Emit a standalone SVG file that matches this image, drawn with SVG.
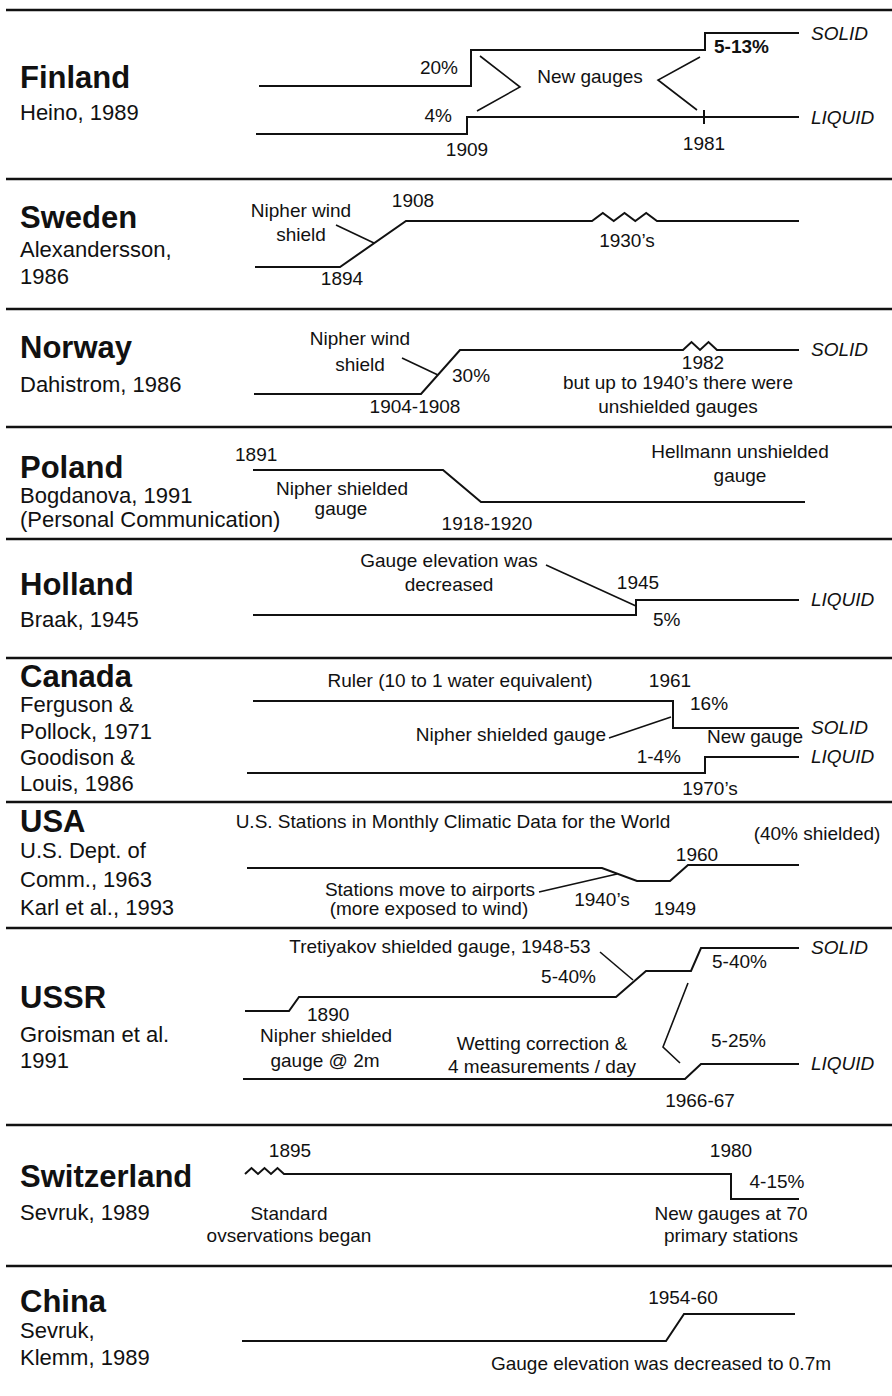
<svg xmlns="http://www.w3.org/2000/svg" width="892" height="1396" viewBox="0 0 892 1396">
  <style>
    .sep { stroke: #111; stroke-width: 2.5; }
    .trace { fill: none; stroke: #111; stroke-width: 2; stroke-linejoin: miter; }
    .ptr { fill: none; stroke: #111; stroke-width: 1.6; }
    text { font-family: "Liberation Sans", Arial, Helvetica, sans-serif; fill: #111; }
    .title { font-size: 31px; font-weight: bold; }
    .sub { font-size: 22px; }
    .lab { font-size: 19px; }
    .it { font-size: 19px; font-style: italic; }
    .b { font-weight: bold; }
    .mid { text-anchor: middle; }
    .end { text-anchor: end; }
  </style>
  <rect width="892" height="1396" fill="#fff"/>

  <!-- horizontal rules between the country panels -->
  <g id="separators">
    <line class="sep" x1="6" y1="10" x2="892" y2="10"/>
    <line class="sep" x1="6" y1="179" x2="892" y2="179"/>
    <line class="sep" x1="6" y1="309" x2="892" y2="309"/>
    <line class="sep" x1="6" y1="427" x2="892" y2="427"/>
    <line class="sep" x1="6" y1="539" x2="892" y2="539"/>
    <line class="sep" x1="6" y1="658" x2="892" y2="658"/>
    <line class="sep" x1="6" y1="802" x2="892" y2="802"/>
    <line class="sep" x1="6" y1="928" x2="892" y2="928"/>
    <line class="sep" x1="6" y1="1125" x2="892" y2="1125"/>
    <line class="sep" x1="6" y1="1266" x2="892" y2="1266"/>
  </g>

  <!-- timeline traces and leader lines -->
  <g id="connectors">
    <!-- Finland -->
    <path class="trace" d="M259,86 H471 V50 H705 V33 H799"/>
    <path class="trace" d="M256,134 H467 V117 H799"/>
    <path class="trace" d="M704,110 V124"/>
    <path class="ptr" d="M480,56 L520,87 L477,111"/>
    <path class="ptr" d="M700,57 L658,80 L697,110"/>
    <!-- Sweden -->
    <path class="trace" d="M255,267 H340 L406,221 H592 L602.8,213 L613.7,221 L624.5,213 L635.3,221 L646.2,213 L657,221 H799"/>
    <path class="ptr" d="M336,225 L374,243"/>
    <!-- Norway -->
    <path class="trace" d="M254,394 H421 L460,350 H683 L691.5,342 L700,350 L708.5,342 L717,350 H799"/>
    <path class="ptr" d="M402,358 L438,375"/>
    <!-- Poland -->
    <path class="trace" d="M253,470 H443 L481,502 H805"/>
    <!-- Holland -->
    <path class="trace" d="M253,615 H636 V600 H799"/>
    <path class="ptr" d="M546,565 L636,606"/>
    <!-- Canada -->
    <path class="trace" d="M253,701 H673 V728 H799"/>
    <path class="trace" d="M247,773 H705 V757 H799"/>
    <path class="ptr" d="M609,738 L671,717"/>
    <!-- USA -->
    <path class="trace" d="M247,868 H602 L637,881 H670 L688,865 H799"/>
    <path class="ptr" d="M539,892 L617,874"/>
    <!-- USSR -->
    <path class="trace" d="M245,1011 H289 L299,997 H616 L646,971 H691 L701,948 H799"/>
    <path class="trace" d="M243,1079 H685 L701,1064 H799"/>
    <path class="ptr" d="M600,952 L633,980"/>
    <path class="ptr" d="M688,983 L663,1047 L680,1063"/>
    <!-- Switzerland -->
    <path class="trace" d="M245,1174 L251.5,1168 L258,1174 L264.5,1168 L271,1174 L277.5,1168 L284,1174 H731 V1199 H799"/>
    <!-- China -->
    <path class="trace" d="M242,1341 H666 L684,1314 H795"/>
  </g>

  <g id="finland">
    <text class="title" x="20" y="88">Finland</text>
    <text class="sub" x="20" y="120">Heino, 1989</text>
    <text class="lab end" x="458" y="74">20%</text>
    <text class="lab end" x="452" y="122">4%</text>
    <text class="lab mid" x="467" y="156">1909</text>
    <text class="lab mid" x="704" y="150">1981</text>
    <text class="lab mid" x="590" y="83">New gauges</text>
    <text class="lab b" x="714" y="53">5-13%</text>
    <text class="it" x="811" y="40">SOLID</text>
    <text class="it" x="811" y="124">LIQUID</text>
  </g>

  <g id="sweden">
    <text class="title" x="20" y="228">Sweden</text>
    <text class="sub" x="20" y="257">Alexandersson,</text>
    <text class="sub" x="20" y="284">1986</text>
    <text class="lab mid" x="301" y="217">Nipher wind</text>
    <text class="lab mid" x="301" y="241">shield</text>
    <text class="lab mid" x="413" y="207">1908</text>
    <text class="lab mid" x="342" y="285">1894</text>
    <text class="lab mid" x="627" y="247">1930’s</text>
  </g>

  <g id="norway">
    <text class="title" x="20" y="358">Norway</text>
    <text class="sub" x="20" y="392">Dahistrom, 1986</text>
    <text class="lab mid" x="360" y="345">Nipher wind</text>
    <text class="lab mid" x="360" y="371">shield</text>
    <text class="lab" x="452" y="382">30%</text>
    <text class="lab mid" x="415" y="413">1904-1908</text>
    <text class="lab mid" x="703" y="369">1982</text>
    <text class="lab mid" x="678" y="389">but up to 1940’s there were</text>
    <text class="lab mid" x="678" y="413">unshielded gauges</text>
    <text class="it" x="811" y="356">SOLID</text>
  </g>

  <g id="poland">
    <text class="title" x="20" y="478">Poland</text>
    <text class="sub" x="20" y="503">Bogdanova, 1991</text>
    <text class="sub" x="20" y="527">(Personal Communication)</text>
    <text class="lab" x="235" y="461">1891</text>
    <text class="lab mid" x="342" y="495">Nipher shielded</text>
    <text class="lab mid" x="341" y="515">gauge</text>
    <text class="lab mid" x="487" y="530">1918-1920</text>
    <text class="lab mid" x="740" y="458">Hellmann unshielded</text>
    <text class="lab mid" x="740" y="482">gauge</text>
  </g>

  <g id="holland">
    <text class="title" x="20" y="595">Holland</text>
    <text class="sub" x="20" y="627">Braak, 1945</text>
    <text class="lab mid" x="449" y="567">Gauge elevation was</text>
    <text class="lab mid" x="449" y="591">decreased</text>
    <text class="lab mid" x="638" y="589">1945</text>
    <text class="lab" x="653" y="626">5%</text>
    <text class="it" x="811" y="606">LIQUID</text>
  </g>

  <g id="canada">
    <text class="title" x="20" y="687">Canada</text>
    <text class="sub" x="20" y="712">Ferguson &amp;</text>
    <text class="sub" x="20" y="739">Pollock, 1971</text>
    <text class="sub" x="20" y="765">Goodison &amp;</text>
    <text class="sub" x="20" y="791">Louis, 1986</text>
    <text class="lab mid" x="460" y="687">Ruler (10 to 1 water equivalent)</text>
    <text class="lab mid" x="670" y="687">1961</text>
    <text class="lab" x="690" y="710">16%</text>
    <text class="lab end" x="606" y="741">Nipher shielded gauge</text>
    <text class="lab mid" x="755" y="743">New gauge</text>
    <text class="lab end" x="681" y="763">1-4%</text>
    <text class="lab mid" x="710" y="795">1970’s</text>
    <text class="it" x="811" y="734">SOLID</text>
    <text class="it" x="811" y="763">LIQUID</text>
  </g>

  <g id="usa">
    <text class="title" x="20" y="832">USA</text>
    <text class="sub" x="20" y="858">U.S. Dept. of</text>
    <text class="sub" x="20" y="887">Comm., 1963</text>
    <text class="sub" x="20" y="915">Karl et al., 1993</text>
    <text class="lab mid" x="453" y="828">U.S. Stations in Monthly Climatic Data for the World</text>
    <text class="lab mid" x="817" y="840">(40% shielded)</text>
    <text class="lab mid" x="697" y="861">1960</text>
    <text class="lab mid" x="430" y="896">Stations move to airports</text>
    <text class="lab mid" x="429" y="915">(more exposed to wind)</text>
    <text class="lab mid" x="602" y="906">1940’s</text>
    <text class="lab mid" x="675" y="915">1949</text>
  </g>

  <g id="ussr">
    <text class="title" x="20" y="1008">USSR</text>
    <text class="sub" x="20" y="1042">Groisman et al.</text>
    <text class="sub" x="20" y="1068">1991</text>
    <text class="lab mid" x="440" y="953">Tretiyakov shielded gauge, 1948-53</text>
    <text class="lab end" x="596" y="983">5-40%</text>
    <text class="lab" x="712" y="968">5-40%</text>
    <text class="lab" x="307" y="1021">1890</text>
    <text class="lab mid" x="326" y="1042">Nipher shielded</text>
    <text class="lab mid" x="325" y="1067">gauge @ 2m</text>
    <text class="lab mid" x="542" y="1050">Wetting correction &amp;</text>
    <text class="lab mid" x="542" y="1073">4 measurements / day</text>
    <text class="lab" x="711" y="1047">5-25%</text>
    <text class="lab mid" x="700" y="1107">1966-67</text>
    <text class="it" x="811" y="954">SOLID</text>
    <text class="it" x="811" y="1070">LIQUID</text>
  </g>

  <g id="switzerland">
    <text class="title" x="20" y="1187">Switzerland</text>
    <text class="sub" x="20" y="1220">Sevruk, 1989</text>
    <text class="lab mid" x="290" y="1157">1895</text>
    <text class="lab mid" x="731" y="1157">1980</text>
    <text class="lab mid" x="777" y="1188">4-15%</text>
    <text class="lab mid" x="289" y="1220">Standard</text>
    <text class="lab mid" x="289" y="1242">ovservations began</text>
    <text class="lab mid" x="731" y="1220">New gauges at 70</text>
    <text class="lab mid" x="731" y="1242">primary stations</text>
  </g>

  <g id="china">
    <text class="title" x="20" y="1312">China</text>
    <text class="sub" x="20" y="1338">Sevruk,</text>
    <text class="sub" x="20" y="1365">Klemm, 1989</text>
    <text class="lab mid" x="683" y="1304">1954-60</text>
    <text class="lab mid" x="661" y="1370">Gauge elevation was decreased to 0.7m</text>
  </g>
</svg>
